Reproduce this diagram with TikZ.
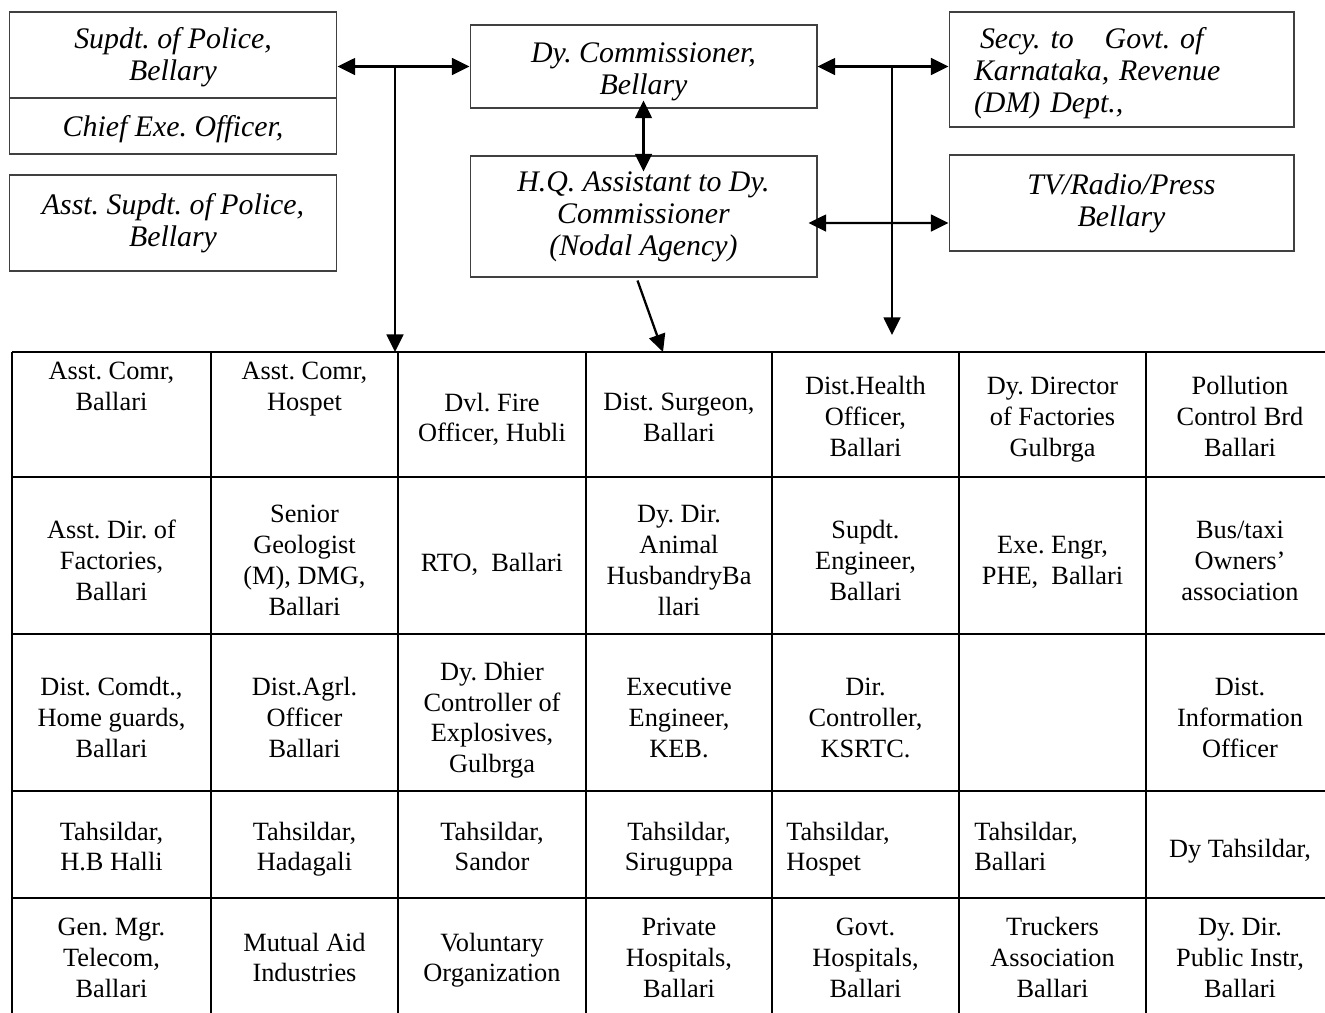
\documentclass[tikz,border=0pt]{standalone}
\usepackage{fontspec}
\setmainfont{Liberation Serif}
\usetikzlibrary{arrows.meta,calc}
\frenchspacing

\begin{document}
\begin{tikzpicture}
        [x=0.02cm, y=-0.02cm,
        box/.style={draw=black!75, line width=0.6pt, align=center, inner sep=0pt,
            font=\fontsize{17}{18.2}\selectfont\itshape},
        cell/.style={align=center, inner sep=0pt, font=\fontsize{15}{17.6}\selectfont,
            execute at begin node=\strut, execute at end node=\strut},
        grid/.style={line width=1.2pt, black},
        link/.style={line width=1.3pt, -{Triangle[length=10pt,width=9.5pt]}},
        biarrow/.style={line width=1.3pt, {Triangle[length=10pt,width=9.5pt]}-{Triangle[length=10pt,width=9.5pt]}}]

        \useasboundingbox (0,0) rectangle (1325,1012);
        \clip (0,0) rectangle (1325,1012);

        % left boxes
        \node[box, minimum width=6.56cm, minimum height=1.72cm] (sp) at (173,55) {\rule{0pt}{0.49cm}Supdt. of Police,\\ Bellary};
        \node[box, minimum width=6.56cm, minimum height=1.12cm] (ceo) at (173,126) {\rule{0pt}{0.53cm}Chief Exe. Officer,};
        \node[box, minimum width=6.56cm, minimum height=1.92cm] (asp) at (173,223) {Asst. Supdt. of Police,\\ Bellary};

        % middle boxes
        \node[box, minimum width=6.94cm, minimum height=1.66cm] (dc) at (643.5,66.5) {\rule{0pt}{0.6cm}Dy. Commissioner,\\ Bellary};
        \node[box, minimum width=6.94cm, minimum height=2.42cm] (hq) at (643.5,216.5) {H.Q. Assistant to Dy.\\ Commissioner\\ (Nodal Agency)};

        % right boxes
        \node[box, align=left, text width=5.9cm, inner xsep=0.5cm, minimum height=2.3cm] (secy) at (1121.5,69.5)
            {\rule{0pt}{0.57cm}\hspace*{0.12cm}Secy. to\hspace{0.42cm} Govt. of\\ Karnataka, Revenue\\ (DM) Dept.,};
        \node[box, minimum width=6.9cm, minimum height=1.92cm] (tv) at (1121.5,203) {TV/Radio/Press\\ Bellary};

        % table grid (runs off at right and bottom)
        \coordinate (tabtop) at (12,352);
        \foreach \y in {352,477,634,791,898}
            \draw[grid] (12,\y) -- (1340,\y);
        \foreach \x in {12,211,398,586,772,959,1146}
            \draw[grid] (\x,352) -- (\x,1030);

        % row 1
        \node[cell] (r1c1) at (111.5,391) {Asst. Comr,\\ Ballari};
        \node[cell] (r1c2) at (304.5,391) {Asst. Comr,\\ Hospet};
        \node[cell] (r1c3) at (492,422) {Dvl. Fire\\ Officer, Hubli};
        \node[cell] (r1c4) at (679,422) {Dist. Surgeon,\\ Ballari};
        \node[cell] (r1c5) at (865.5,421) {Dist.Health\\ Officer,\\ Ballari};
        \node[cell] (r1c6) at (1052.5,421) {Dy. Director\\ of Factories\\ Gulbrga};
        \node[cell] (r1c7) at (1240,421) {Pollution\\ Control Brd\\ Ballari};

        % row 2
        \node[cell] (r2c1) at (111.5,565) {Asst. Dir. of\\ Factories,\\ Ballari};
        \node[cell] (r2c2) at (304.5,565) {Senior\\ Geologist\\ (M), DMG,\\ Ballari};
        \node[cell] (r2c3) at (492,565) {RTO,\ \ Ballari};
        \node[cell] (r2c4) at (679,565) {Dy. Dir.\\ Animal\\ HusbandryBa\\ llari};
        \node[cell] (r2c5) at (865.5,565) {Supdt.\\ Engineer,\\ Ballari};
        \node[cell] (r2c6) at (1052.5,565) {Exe. Engr,\\ PHE,\ \ Ballari};
        \node[cell] (r2c7) at (1240,565) {Bus/taxi\\ Owners'\\ association};

        % row 3
        \node[cell] (r3c1) at (111.5,722) {Dist. Comdt.,\\ Home guards,\\ Ballari};
        \node[cell] (r3c2) at (304.5,722) {Dist.Agrl.\\ Officer\\ Ballari};
        \node[cell] (r3c3) at (492,722) {Dy. Dhier\\ Controller of\\ Explosives,\\ Gulbrga};
        \node[cell] (r3c4) at (679,722) {Executive\\ Engineer,\\ KEB.};
        \node[cell] (r3c5) at (865.5,722) {Dir.\\ Controller,\\ KSRTC.};
        \node[cell] (r3c7) at (1240,722) {Dist.\\ Information\\ Officer};

        % row 4
        \node[cell] (r4c1) at (111.5,851) {Tahsildar,\\ H.B Halli};
        \node[cell] (r4c2) at (304.5,851) {Tahsildar,\\ Hadagali};
        \node[cell] (r4c3) at (492,851) {Tahsildar,\\ Sandor};
        \node[cell] (r4c4) at (679,851) {Tahsildar,\\ Siruguppa};
        \node[cell, align=left, anchor=west] (r4c5) at (786,851) {Tahsildar,\\ Hospet};
        \node[cell, align=left, anchor=west] (r4c6) at (974,851) {Tahsildar,\\ Ballari};
        \node[cell] (r4c7) at (1240,851) {Dy Tahsildar,};

        % row 5
        \node[cell] (r5c1) at (111.5,962) {Gen. Mgr.\\ Telecom,\\ Ballari};
        \node[cell] (r5c2) at (304.5,962) {Mutual Aid\\ Industries};
        \node[cell] (r5c3) at (492,962) {Voluntary\\ Organization};
        \node[cell] (r5c4) at (679,962) {Private\\ Hospitals,\\ Ballari};
        \node[cell] (r5c5) at (865.5,962) {Govt.\\ Hospitals,\\ Ballari};
        \node[cell] (r5c6) at (1052.5,962) {Truckers\\ Association\\ Ballari};
        \node[cell] (r5c7) at (1240,962) {Dy. Dir.\\ Public Instr,\\ Ballari};

        % arrows
        \coordinate (jl) at (395,66);
        \coordinate (jr) at (892,66);
        \coordinate (jrend) at (892,335);
        \coordinate (hqend) at (663,352);

        \draw[biarrow] (dc.west -| sp.east) -- (dc.west);
        \draw[link] (jl) -- (jl |- tabtop);
        \draw[biarrow] (dc.east) -- (dc.east -| secy.west);
        \draw[link] (jr) -- (jrend);
        \draw[biarrow, shorten <=-0.16cm, shorten >=-0.32cm] (dc.south) -- (hq.north);
        \draw[link] ($(hq.south)+(-6,3)$) -- (hqend);
        \draw[biarrow] ($(hq.east)+(-9,6.5)$) -- ($(tv.west)+(0,20)$);

    \end{tikzpicture}
\end{document}
